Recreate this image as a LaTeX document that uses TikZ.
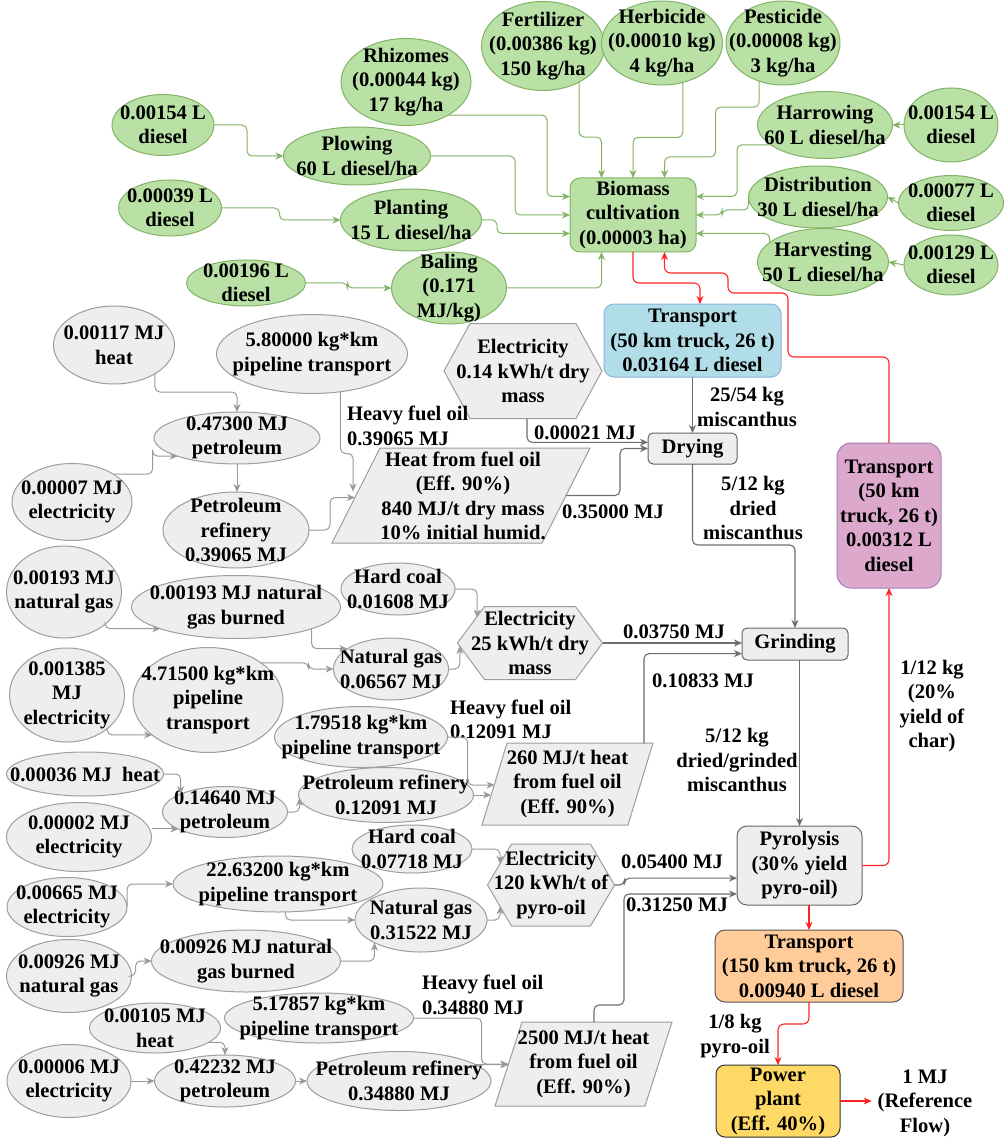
\documentclass[tikz,border=0pt]{standalone}
\usepackage{fontspec}
\setmainfont{LiberationSerif}[Extension=.ttf, UprightFont=*-Regular, BoldFont=*-Bold, ItalicFont=*-Italic, BoldItalicFont=*-BoldItalic]
\usetikzlibrary{shapes.geometric,arrows.meta,calc}

\definecolor{gfill}{HTML}{B9E0A5}
\definecolor{gline}{HTML}{82B366}
\definecolor{kfill}{HTML}{EEEEEE}
\definecolor{kline}{HTML}{9E9E9E}
\definecolor{kdark}{HTML}{666666}
\definecolor{lflowc}{HTML}{9A9A9A}
\definecolor{mflowc}{HTML}{6E6E6E}
\definecolor{bfill}{HTML}{B1DDE8}
\definecolor{bline}{HTML}{8DB3D9}
\definecolor{pfill}{HTML}{DCA8CC}
\definecolor{pline}{HTML}{A680B8}
\definecolor{ofill}{HTML}{FFCC99}
\definecolor{oline}{HTML}{555555}
\definecolor{yfill}{HTML}{FFD966}
\definecolor{yline}{HTML}{333333}
\definecolor{redc}{HTML}{FF2424}

\tikzset{
  txt/.style={inner sep=0pt, outer sep=0pt, align=center,
    font=\fontsize{20.6}{24.5}\selectfont\bfseries},
  gE/.style={ellipse, draw=gline, fill=gfill, line width=1pt, inner sep=0pt, outer sep=0pt},
  kE/.style={ellipse, draw=kline, fill=kfill, line width=1pt, inner sep=0pt, outer sep=0pt},
  holder/.style={rectangle, inner sep=0pt, outer sep=0pt},
  rbox/.style={rectangle, line width=1pt, inner sep=0pt, outer sep=0pt},
  kshape/.style={draw=kline, fill=kfill, line width=1pt},
  arrowhd/.style={-{Stealth[length=8pt,width=7pt,inset=2.5pt]}},
  gflow/.style={draw=gline, line width=1pt, arrowhd, rounded corners=5pt},
  lflow/.style={draw=lflowc, line width=1pt, arrowhd, rounded corners=5pt},
  mflow/.style={draw=mflowc, line width=1.1pt, arrowhd, rounded corners=5pt},
  rflow/.style={draw=redc, line width=1.1pt, arrowhd, rounded corners=6pt},
}

% shape node with a fixed size and its text on top
\newcommand\shapenode[6]{%
  \node[#1, minimum width=#4pt, minimum height=#5pt] (#2) at (#3) {};
  \node[txt] (#2-t) at (#2.center) {#6};}
% hexagon outline on a holder node, pointed left and right
\newcommand\hexo[2]{\draw[kshape] (#1.west) -- ($(#1.north west)+(#2,0)$) -- ($(#1.north east)+(-#2,0)$) -- (#1.east) -- ($(#1.south east)+(-#2,0)$) -- ($(#1.south west)+(#2,0)$) -- cycle;}
% parallelogram outline on a holder node, leaning right
\newcommand\parao[2]{\draw[kshape] ($(#1.north west)+(#2,0)$) -- (#1.north east) -- ($(#1.south east)+(-#2,0)$) -- (#1.south west) -- cycle;}

\begin{document}
\begin{tikzpicture}[x=1pt, y=-1pt]
\fill[white] (0,0) rectangle (1007,1139);
\useasboundingbox (0,0) rectangle (1007,1139);

% ---------------- cultivation inputs ----------------
\shapenode{gE}{d1}{163,125}{102}{61}{0.00154 L\\diesel}
\shapenode{gE}{d2}{170,208}{103}{56}{0.00039 L\\diesel}
\shapenode{gE}{d3}{246,283}{119}{46}{0.00196 L\\diesel}
\shapenode{gE}{plow}{357,156}{147}{58}{Plowing\\60 L diesel/ha}
\shapenode{gE}{plant}{411,220}{141}{62}{Planting\\15 L diesel/ha}
\shapenode{gE}{bal}{449,288}{115}{72}{Baling\\(0.171\\MJ/kg)}
\shapenode{gE}{rhiz}{406,82}{130}{87}{Rhizomes\\(0.00044 kg)\\17 kg/ha}
\shapenode{gE}{fert}{543,46}{123}{89}{Fertilizer\\(0.00386 kg)\\150 kg/ha}
\shapenode{gE}{herb}{662,43}{121}{84}{Herbicide\\(0.00010 kg)\\4 kg/ha}
\shapenode{gE}{pest}{783,43}{114}{84}{Pesticide\\(0.00008 kg)\\3 kg/ha}
\shapenode{gE}{harr}{825,125}{135}{67}{Harrowing\\60 L diesel/ha}
\shapenode{gE}{d4}{951,125}{94}{74}{0.00154 L\\diesel}
\shapenode{gE}{dist}{818,197}{139}{62}{Distribution\\30 L diesel/ha}
\shapenode{gE}{d5}{951,203}{105}{55}{0.00077 L\\diesel}
\shapenode{gE}{harv}{823,262}{131}{67}{Harvesting\\50 L diesel/ha}
\shapenode{gE}{d6}{951,265}{94}{60}{0.00129 L\\diesel}
\shapenode{rbox, rounded corners=10pt, draw=gline, fill=gfill}{bio}{633,215}{126}{74}{Biomass\\cultivation\\(0.00003 ha)}

\coordinate (bW1) at ($(bio.north west)!0.25!(bio.south west)$);
\coordinate (bW2) at ($(bio.north west)!0.5!(bio.south west)$);
\coordinate (bW3) at ($(bio.north west)!0.75!(bio.south west)$);
\coordinate (bE1) at ($(bio.north east)!0.25!(bio.south east)$);
\coordinate (bE2) at ($(bio.north east)!0.5!(bio.south east)$);
\coordinate (bE3) at ($(bio.north east)!0.75!(bio.south east)$);
\coordinate (bN1) at ($(bio.north west)!0.25!(bio.north east)$);
\coordinate (bN2) at ($(bio.north west)!0.5!(bio.north east)$);
\coordinate (bN3) at ($(bio.north west)!0.75!(bio.north east)$);
\coordinate (bS1) at ($(bio.south west)!0.25!(bio.south east)$);
\coordinate (bS2) at ($(bio.south west)!0.5!(bio.south east)$);
\coordinate (bS3) at ($(bio.south west)!0.75!(bio.south east)$);

% ---------------- process chain ----------------
\shapenode{rbox, rounded corners=10pt, draw=bline, fill=bfill}{tr1}{692.5,340.5}{177}{73}{Transport\\(50 km truck, 26 t)\\0.03164 L diesel}
\shapenode{rbox, rounded corners=14pt, draw=pline, fill=pfill}{tr2}{889,515.5}{104}{145}{Transport\\(50 km\\truck, 26 t)\\0.00312 L\\diesel}
\shapenode{rbox, rounded corners=10pt, draw=oline, fill=ofill}{tr3}{809,966}{188}{72}{Transport\\(150 km truck, 26 t)\\0.00940 L diesel}
\shapenode{rbox, rounded corners=9pt, draw=yline, fill=yfill}{pp}{778,1101}{124}{72}{Power\\plant\\(Eff. 40\%)}
\shapenode{rbox, rounded corners=5pt, draw=kdark, fill=kfill}{dry}{692.5,448.5}{89}{31}{Drying}
\shapenode{rbox, rounded corners=5pt, draw=kdark, fill=kfill}{grind}{795,644}{106}{32}{Grinding}
\shapenode{rbox, rounded corners=10pt, draw=kdark, fill=kfill}{pyro}{799.5,865.5}{125}{79}{Pyrolysis\\(30\% yield\\pyro-oil)}

\coordinate (dW1) at ($(dry.north west)!0.3!(dry.south west)$);
\coordinate (gW2) at ($(grind.north west)!0.8!(grind.south west)$);
\coordinate (pyW1) at ($(pyro.north west)!0.66!(pyro.south west)$);
\coordinate (pyW2) at ($(pyro.north west)!0.86!(pyro.south west)$);

% electricity hexagons
\node[holder, minimum width=158pt, minimum height=95pt] (ex1) at (523,371) {};
\hexo{ex1}{26}
\node[txt] (ex1-t) at (ex1.center) {Electricity\\0.14 kWh/t dry\\mass};
\node[holder, minimum width=145pt, minimum height=73pt] (ex2) at (530,643) {};
\hexo{ex2}{27}
\node[txt] (ex2-t) at (ex2.center) {Electricity\\25 kWh/t dry\\mass};
\node[holder, minimum width=127pt, minimum height=82pt] (ex3) at (551,885) {};
\hexo{ex3}{24}
\node[txt] (ex3-t) at (ex3.center) {Electricity\\120 kWh/t of\\pyro-oil};

% heat from fuel oil
\node[holder, minimum width=258pt, minimum height=95pt] (pa1) at (461,495.5) {};
\parao{pa1}{48}
\node[txt] (pa1-t) at (463,496) {Heat from fuel oil\\(Eff. 90\%)\\840 MJ/t dry mass\\10\% initial humid.};
\node[holder, minimum width=171pt, minimum height=82pt] (pa2) at (567.5,784) {};
\parao{pa2}{25}
\node[txt] (pa2-t) at (pa2.center) {260 MJ/t heat\\from fuel oil\\(Eff. 90\%)};
\node[holder, minimum width=177pt, minimum height=84pt] (pa3) at (583.5,1064) {};
\parao{pa3}{27}
\node[txt] (pa3-t) at (pa3.center) {2500 MJ/t heat\\from fuel oil\\(Eff. 90\%)};

% ---------------- background inputs, drying ----------------
\shapenode{kE}{heat1}{114,345}{121}{78}{0.00117 MJ\\heat}
\shapenode{kE}{pipe1}{312,354}{191}{79}{5.80000 kg*km\\pipeline transport}
\shapenode{kE}{pet1}{237,438}{166}{52}{0.47300 MJ\\petroleum}
\shapenode{kE}{el1}{72,502}{120}{77}{0.00007 MJ\\electricity}
\shapenode{kE}{ref1}{236,530}{146}{76}{Petroleum\\refinery\\0.39065 MJ}

% ---------------- background inputs, grinding ----------------
\shapenode{kE}{ng1}{64,592}{115}{92}{0.00193 MJ\\natural gas}
\shapenode{kE}{ngb1}{236,607}{209}{63}{0.00193 MJ natural\\gas burned}
\shapenode{kE}{hc1}{398,589}{114}{52}{Hard coal\\0.01608 MJ}
\shapenode{kE}{ngs1}{391,669}{115}{62}{Natural gas\\0.06567 MJ}
\shapenode{kE}{el2}{67,695}{115}{94}{0.001385\\MJ\\electricity}
\shapenode{kE}{pipe2}{208,700}{150}{105}{4.71500 kg*km\\pipeline\\transport}
\shapenode{kE}{pipe3}{361,737}{173}{61}{1.79518 kg*km\\pipeline transport}
\shapenode{kE}{heat2}{85,774}{157}{44}{0.00036 MJ\ \ heat}
\shapenode{kE}{pet2}{225,812}{125}{51}{0.14640 MJ\\petroleum}
\shapenode{kE}{el3}{79,837}{145}{69}{0.00002 MJ\\electricity}
\shapenode{kE}{ref2}{386,795}{175}{55}{Petroleum refinery\\0.12091 MJ}

% ---------------- background inputs, pyrolysis ----------------
\shapenode{kE}{hc2}{412,849}{120}{48}{Hard coal\\0.07718 MJ}
\shapenode{kE}{el4}{67,907}{120}{59}{0.00665 MJ\\electricity}
\shapenode{kE}{pipe4}{278,884}{210}{56}{22.63200 kg*km\\pipeline transport}
\shapenode{kE}{ngs2}{421,920}{132}{64}{Natural gas\\0.31522 MJ}
\shapenode{kE}{ng2}{69,976}{125}{73}{0.00926 MJ\\natural gas}
\shapenode{kE}{ngb2}{246,961}{189}{62}{0.00926 MJ natural\\gas burned}
\shapenode{kE}{heat3}{155,1028}{131}{50}{0.00105 MJ\\heat}
\shapenode{kE}{pipe5}{319,1018}{189}{50}{5.17857 kg*km\\pipeline transport}
\shapenode{kE}{el5}{69,1081}{124}{73}{0.00006 MJ\\electricity}
\shapenode{kE}{pet3}{225,1081}{141}{52}{0.42232 MJ\\petroleum}
\shapenode{kE}{ref3}{399,1081}{184}{59}{Petroleum refinery\\0.34880 MJ}

% ---------------- flow labels ----------------
\node[txt, anchor=west, align=left] (lab1) at (347,426) {Heavy fuel oil\\0.39065 MJ};
\node[txt] (lab2) at (585,433) {0.00021 MJ};
\node[txt] (lab3) at (747,407) {25/54 kg\\miscanthus};
\node[txt] (lab4) at (613,512) {0.35000 MJ};
\node[txt] (lab5) at (753,508) {5/12 kg\\dried\\miscanthus};
\node[txt] (lab6) at (674,632) {0.03750 MJ};
\node[txt] (lab7) at (703,681) {0.10833 MJ};
\node[txt, anchor=west, align=left] (lab8) at (450,719.5) {Heavy fuel oil\\0.12091 MJ};
\node[txt] (lab9) at (737,760) {5/12 kg\\dried/grinded\\miscanthus};
\node[txt] (lab10) at (932,706) {1/12 kg\\(20\%\\yield of\\char)};
\node[txt] (lab11) at (672,862) {0.05400 MJ};
\node[txt] (lab12) at (677,905) {0.31250 MJ};
\node[txt, anchor=west, align=left] (lab13) at (422,995) {Heavy fuel oil\\0.34880 MJ};
\node[txt] (lab14) at (735,1036) {1/8 kg\\pyro-oil};
\node[txt] (refl) at (925,1103) {1 MJ\\(Reference\\Flow)};

% ---------------- cultivation connectors ----------------
\draw[gflow] (d1.east) -- ++(33,0) |- (plow.west);
\draw[gflow] (d2.east) -- ++(58,0) |- (plant.west);
\draw[gflow] (d3.east) -- ++(42,0) |- (bal.west);
\draw[gflow] (rhiz.-38) -| ($(bW1)+(-23,0)$) -- (bW1);
\draw[gflow] (plow.east) -| ($(bW2)+(-55,0)$) -- (bW2);
\draw[gflow] (plant.east) -| ($(bW3)+(-73,0)$) -- (bW3);
\draw[gflow] (bal.east) -| (bS1);
\draw[gflow] (fert.-45) -- ++(0,55) -| (bN1);
\draw[gflow] (herb.-62) -- ++(0,55) -| (bN2);
\draw[gflow] (pest.-122) -- ++(0,26) -| ($(bN3)+(51,-21)$) -| (bN3);
\draw[gflow] (harr.200) -| ($(bE1)+(41,0)$) -- (bE1);
\draw[gflow] (dist.west) |- ($(bE2)+(26,-5)$) |- (bE2);
\draw[gflow] (harv.160) |- (bE3);
\draw[gflow] (d4.west) -- (harr.east);
\draw[gflow] (d5.west) -- (dist.east);
\draw[gflow] (d6.west) -- (harv.east);

% ---------------- main chain connectors ----------------
\draw[rflow] (bS2) -- ++(0,31) -| ($(tr1.north)+(7.5,0)$);
\draw[rflow] (tr2.north) |- (788,357) |- (728,293) |- ($(bS3)+(0,21)$) -- (bS3);
\draw[rflow] (pyro.east) -| (tr2.south);
\draw[rflow] (pyro.south -| tr3.north) -- (tr3.north);
\draw[rflow] (tr3.south) -- ++(0,22) -| (pp.north);
\draw[rflow, shorten >=6pt, rounded corners=0pt] (pp.east) -- (refl.west |- pp.east);

\draw[mflow] (tr1.south) -- (dry.north);
\draw[mflow] ($(ex1.south)+(4,0)$) |- (dW1);
\draw[mflow] ($(pa1.east)+(-24,0)$) -| ($(dry.west)+(-28,0)$) -- (dry.west);
\draw[mflow] (dry.south) -- ++(0,81) -| (grind.north);
\draw[mflow] (ex2.east) -- (ex2.east -| grind.west);
\draw[mflow] ($(pa2.north east)+(-9,0)$) |- (gW2);
\draw[mflow] (grind.south -| pyro.north) -- (pyro.north);
\draw[mflow] (ex3.east) -- ++(10,0) |- (pyW1);
\draw[mflow] ($(pa3.north)+(10.5,0)$) -- ++(0,-17) -| ($(pyW2)+(-113,66)$) |- (pyW2);

% ---------------- background connectors ----------------
\draw[lflow] (heat1.-35) |- ($(pet1.north)+(0,-20)$) -- (pet1.north);
\draw[lflow] (el1.34) -| ($(pet1.197)+(-25,0)$) |- (pet1.197);
\draw[lflow] (pet1.south) -- (pet1.south |- ref1.north);
\draw[lflow] (pipe1.-53.5) |- ($(pa1.west)+(21,-42)$) -- ($(pa1.west)+(21,-4)$);
\draw[lflow] (ref1.east) -| ($(pa1.west)+(-2,2)$) -- ($(pa1.west)+(23,2)$);

\draw[lflow] (hc1.east) -| ($(ex2.west)+(19.6,-25.5)$);
\draw[lflow] (ngs1.east) -| ($(ex2.west)+(2.3,3)$);
\draw[lflow] (ng1.-38) |- (ngb1.196);
\draw[lflow] (ngb1.-16) |- (ngs1.155);
\draw[lflow] (pipe2.35) -| ($(ngs1.west)+(-25,0)$) -- (ngs1.west);
\draw[lflow] (el2.-40) |- (pipe2.212);
\draw[lflow] (pipe3.east) -- ++(20,0) |- ($(pa2.west)+(12.5,1)$);
\draw[lflow] (ref2.east) -- ($(pa2.west)+(9.1,11)$);
\draw[lflow] (heat2.east) -| (pet2.158);
\draw[lflow] (el3.east |- pet2.200) -- (pet2.200);
\draw[lflow] (pet2.east) -| ($(ref2.west)+(1,3)$);

\draw[lflow] (hc2.east) -| ($(ex3.west)+(12.5,-21.4)$);
\draw[lflow] (ngs2.east) -| ($(ex3.west)+(12.5,21.4)$);
\draw[lflow] (el4.east) |- (pipe4.west);
\draw[lflow] (pipe4.-75) |- (ngs2.west);
\draw[lflow] (ng2.east) -- ++(4,0) |- (ngb2.west);
\draw[lflow] (ngb2.east) -| (ngs2.206);
\draw[lflow] (pipe5.east) -- ++(68,0) |- ($(pa3.west)+(13.5,0)$);
\draw[lflow] (ref3.12) -- ($(pa3.west)+(13.5,0.7)$);
\draw[lflow] (heat3.-15) -| (pet3.north);
\draw[lflow] (el5.east) -- (pet3.west);
\draw[lflow] (pet3.east) -- (ref3.west);
\end{tikzpicture}
\end{document}
